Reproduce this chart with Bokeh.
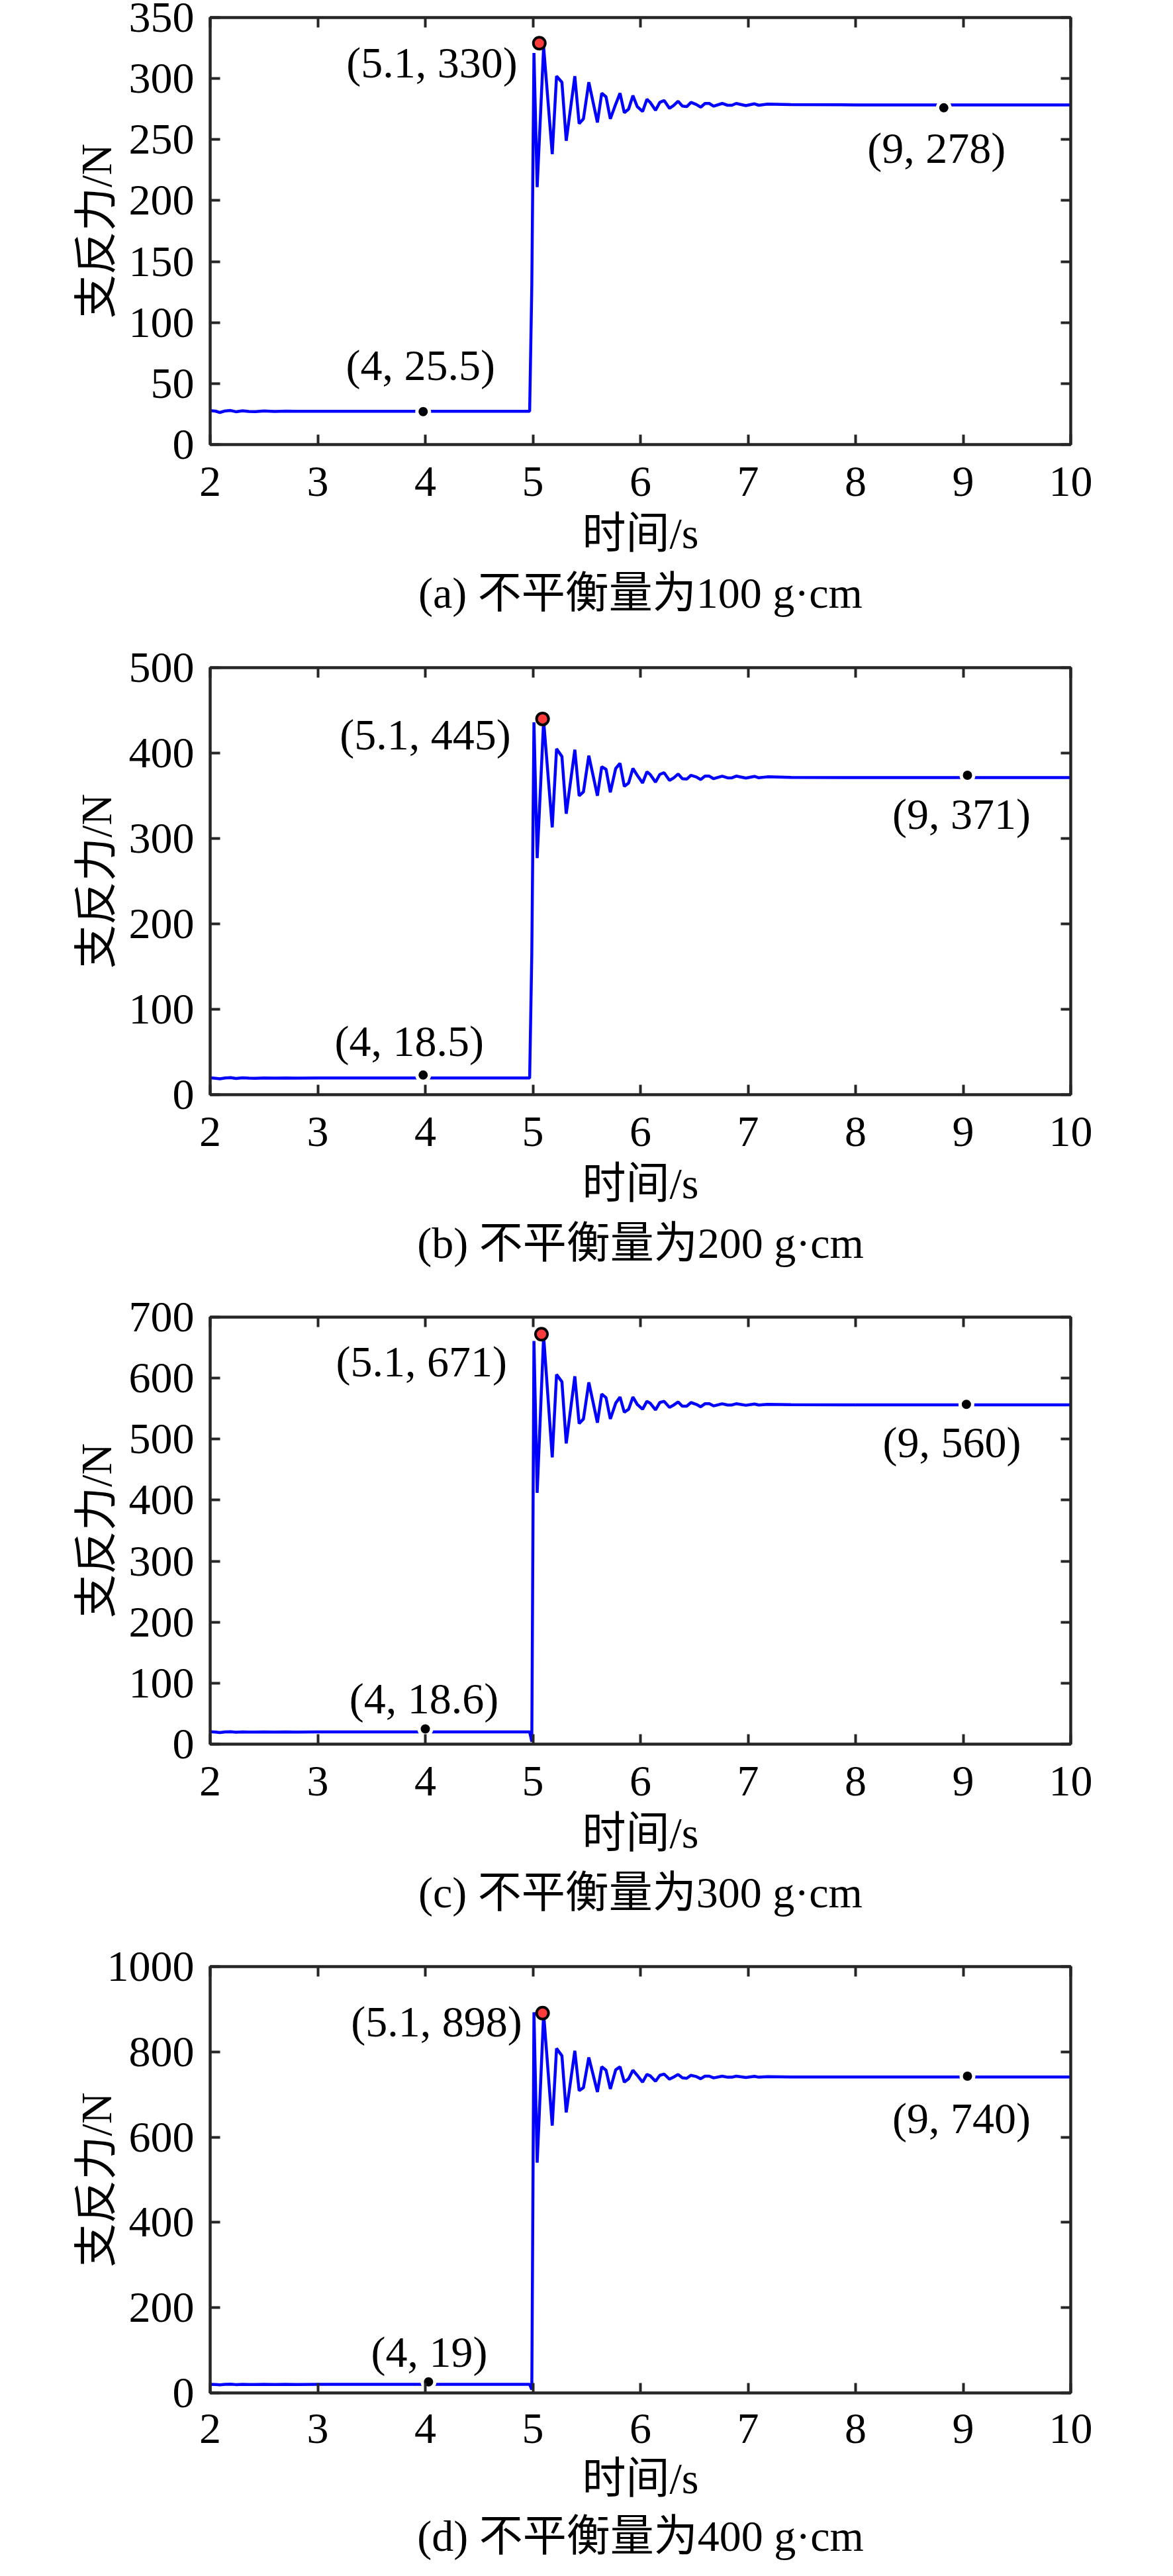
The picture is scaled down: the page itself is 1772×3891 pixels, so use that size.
from bokeh.plotting import figure
from bokeh.models import (Range1d, LinearAxis, FixedTicker, Title, ColumnDataSource,
                          CustomLabelingPolicy)
from bokeh.layouts import column
from bokeh.embed import file_html
from bokeh.resources import INLINE
from bokeh.core.properties import value

# ---------------- data ----------------
T = [2.00, 2.05, 2.09, 2.14, 2.19, 2.24, 2.30, 2.36, 2.42, 2.50, 2.60, 2.70, 2.80, 3.00,
     4.97, 4.99,
     5.01, 5.04, 5.10, 5.18, 5.22, 5.27, 5.31, 5.39, 5.43, 5.47,
     5.52, 5.60, 5.64, 5.68, 5.72, 5.77, 5.81, 5.85, 5.89, 5.93,
     5.97, 6.02, 6.06, 6.09, 6.14, 6.18, 6.22, 6.27, 6.31, 6.35,
     6.39, 6.43, 6.47, 6.52, 6.56, 6.60, 6.64, 6.68, 6.76, 6.81,
     6.85, 6.89, 6.98, 7.06, 7.10, 7.18,
     7.40, 8.00, 10.00]

F_a = [27.8, 27.4, 26.3, 27.6, 27.9, 26.9, 27.7, 27.1, 27.0, 27.5, 27.1, 27.4, 27.2, 27.3,
       27.3, 130,
       321, 211, 326, 238, 302, 297, 249, 302, 263, 267,
       297, 264, 288, 285, 267, 279, 288, 272, 275, 286,
       277, 273, 283, 280.5, 274, 280.5, 282, 275.6, 278, 281.4,
       277.4, 277, 280.5, 278.7, 276.5, 279.6, 279.6, 277.4, 279.6, 278.1,
       278.1, 279.6, 277.8, 279.3, 278.1, 279.0,
       278.6, 278.4, 278.4]

F_b = [19.8, 19.2, 18.6, 19.6, 19.9, 19.0, 19.7, 19.3, 19.2, 19.6, 19.3, 19.5, 19.4, 19.5,
       19.5, 165,
       436, 277, 438, 313, 405, 396, 329, 404, 350, 354.5,
       397, 350, 384, 381, 354, 382, 388, 361, 365, 382,
       374, 365, 378, 375, 366, 375, 377, 368, 371, 375.5,
       370, 369.5, 374, 372, 369, 373, 373, 370, 373, 371,
       371, 373, 370.7, 372.7, 371.1, 372.2,
       371.6, 371.3, 371.3]

F_c = [20.3, 19.8, 19.0, 20.1, 20.4, 19.5, 20.2, 19.8, 19.7, 20.1, 19.8, 20.0, 19.9, 20.0,
       20.0, 4,
       661, 412, 669, 470, 606, 594, 493, 603, 525.5, 533,
       593, 527, 574, 568, 533, 559, 569, 544, 549, 569,
       557, 549, 562, 559, 548, 560, 562, 552, 556, 561,
       554, 554, 560, 557, 553, 558, 558, 554.5, 558, 556,
       556, 558, 555.5, 557.6, 556, 557,
       556.4, 556.2, 556.2]

F_d = [20.3, 19.9, 19.2, 20.1, 20.4, 19.6, 20.2, 19.8, 19.7, 20.1, 19.8, 20.0, 19.9, 20.0,
       20.0, 8,
       893, 540, 890, 627, 808, 791, 658, 802.6, 709, 716,
       787, 706, 765, 757, 713, 758, 765, 729, 737, 757,
       745, 729, 747, 744, 731, 745, 748, 736, 741, 747,
       739, 738, 745, 742, 737, 743, 743, 739, 743, 740.5,
       740.5, 743, 740, 742.5, 740.5, 742,
       741.2, 741, 741]

SERIES = [F_a, F_b, F_c, F_d]

PEAK_X = [5.06, 5.09, 5.08, 5.09]
PEAK_Y = [329, 440, 672, 891]
PEAK_LBL = ["(5.1, 330)", "(5.1, 445)", "(5.1, 671)", "(5.1, 898)"]

LOW_X = [3.98, 3.98, 4.00, 4.03]
LOW_Y = [27, 23, 25, 26]
LOW_LBL = ["(4, 25.5)", "(4, 18.5)", "(4, 18.6)", "(4, 19)"]

STEADY_X = [8.82, 9.04, 9.03, 9.04]
STEADY_Y = [276, 374, 557, 743]
STEADY_LBL = ["(9, 278)", "(9, 371)", "(9, 560)", "(9, 740)"]

X_TICKS = [2, 3, 4, 5, 6, 7, 8, 9, 10]
Y_MAX = [350, 500, 700, 1000]
Y_TICKS = [[0, 50, 100, 150, 200, 250, 300, 350],
           [0, 100, 200, 300, 400, 500],
           [0, 100, 200, 300, 400, 500, 600, 700],
           [0, 200, 400, 600, 800, 1000]]

X_LABEL = "时间/s"
Y_LABEL = "支反力/N"
CAPTIONS = ["(a) 不平衡量为100 g·cm", "(b) 不平衡量为200 g·cm",
            "(c) 不平衡量为300 g·cm", "(d) 不平衡量为400 g·cm"]

# ---------------- style ----------------
SERIF = "Liberation Serif"
MIXED = "'Liberation Serif', 'Noto Sans CJK SC'"
FS = "66px"
AX = "#262626"
HEIGHTS = [982, 981, 981, 931]
FRAME_H = 645
PEAK_OFF = [(-33, 29), (-48, 24), (-52, 41), (-31, 13)]
LOW_OFF = [(-4, -70), (-21, -51), (-2, -46), (1, -45)]
STEADY_OFF = [(-11, 61), (-9, 58), (-22, 57), (-9, 63)]
YLAB_STANDOFF = [10, 10, 10, -23]
TICK_STANDOFF = [34, 34, 34, 32]
XLAB_STANDOFF = [17, 17, 17, 14]
CAP_STANDOFF = [24, 24, 24, 18]
NO_LABELS = "for (const i of indices) { indices.unset(i) }\nreturn indices"


def style_axis(ax, labels):
    ax.axis_line_color = AX
    ax.axis_line_width = 4
    ax.major_tick_line_color = AX
    ax.major_tick_line_width = 4
    ax.major_tick_in = 15
    ax.major_tick_out = 0
    ax.minor_tick_line_color = None
    if labels:
        ax.major_label_text_font = SERIF
        ax.major_label_text_font_size = FS
        ax.major_label_text_color = "black"
    else:
        ax.major_label_text_font_size = "1px"
        ax.major_label_standoff = 0
        ax.major_label_policy = CustomLabelingPolicy(code=NO_LABELS)


def make_panel(i):
    h = HEIGHTS[i]
    p = figure(width=1756, height=h, x_range=Range1d(2, 10), y_range=Range1d(0, Y_MAX[i]),
               output_backend="svg", toolbar_location=None,
               x_axis_location=None, y_axis_location=None,
               min_border_left=317, min_border_right=139,
               min_border_top=26, min_border_bottom=h - 26 - FRAME_H)
    p.xgrid.visible = False
    p.ygrid.visible = False
    p.outline_line_color = AX
    p.outline_line_width = 4
    p.background_fill_color = "white"
    p.border_fill_color = "white"

    xt = FixedTicker(ticks=X_TICKS, minor_ticks=[])
    yt = FixedTicker(ticks=Y_TICKS[i], minor_ticks=[])

    bottom = LinearAxis(ticker=xt)
    style_axis(bottom, True)
    bottom.major_label_standoff = TICK_STANDOFF[i]
    bottom.axis_label = X_LABEL
    bottom.axis_label_text_font = MIXED
    bottom.axis_label_text_font_size = FS
    bottom.axis_label_text_font_style = "normal"
    bottom.axis_label_text_color = "black"
    bottom.axis_label_standoff = XLAB_STANDOFF[i]
    p.add_layout(bottom, "below")

    left = LinearAxis(ticker=yt)
    style_axis(left, True)
    left.major_label_standoff = 24
    left.axis_label = Y_LABEL
    left.axis_label_text_font = MIXED
    left.axis_label_text_font_size = FS
    left.axis_label_text_font_style = "normal"
    left.axis_label_text_color = "black"
    left.axis_label_standoff = YLAB_STANDOFF[i]
    p.add_layout(left, "left")

    top = LinearAxis(ticker=xt)
    style_axis(top, False)
    p.add_layout(top, "above")
    right = LinearAxis(ticker=yt)
    style_axis(right, False)
    p.add_layout(right, "right")

    cap = Title(text=CAPTIONS[i], align="center", text_font=MIXED, text_font_size=FS,
                text_font_style="normal", text_color="black", standoff=CAP_STANDOFF[i])
    p.add_layout(cap, "below")

    src = ColumnDataSource(dict(t=T, f=SERIES[i]))
    p.line("t", "f", source=src, line_color="#0000FF", line_width=4.5)

    p.scatter(x=[LOW_X[i], STEADY_X[i]], y=[LOW_Y[i], STEADY_Y[i]], size=19,
              fill_color="black", line_color="white", line_width=5)
    p.scatter(x=[PEAK_X[i]], y=[PEAK_Y[i]], size=18,
              fill_color="#FF3B3B", line_color="black", line_width=4)

    p.text(x=[PEAK_X[i]], y=[PEAK_Y[i]], text=[PEAK_LBL[i]],
           x_offset=PEAK_OFF[i][0], y_offset=PEAK_OFF[i][1],
           text_align="right", text_baseline="middle",
           text_font=value(SERIF), text_font_size=FS, text_color="black")
    p.text(x=[LOW_X[i]], y=[LOW_Y[i]], text=[LOW_LBL[i]],
           x_offset=LOW_OFF[i][0], y_offset=LOW_OFF[i][1],
           text_align="center", text_baseline="middle",
           text_font=value(SERIF), text_font_size=FS, text_color="black")
    p.text(x=[STEADY_X[i]], y=[STEADY_Y[i]], text=[STEADY_LBL[i]],
           x_offset=STEADY_OFF[i][0], y_offset=STEADY_OFF[i][1],
           text_align="center", text_baseline="middle",
           text_font=value(SERIF), text_font_size=FS, text_color="black")
    return p


layout = column(*[make_panel(i) for i in range(4)], spacing=0)
open("out.html", "w").write(file_html(layout, INLINE))
